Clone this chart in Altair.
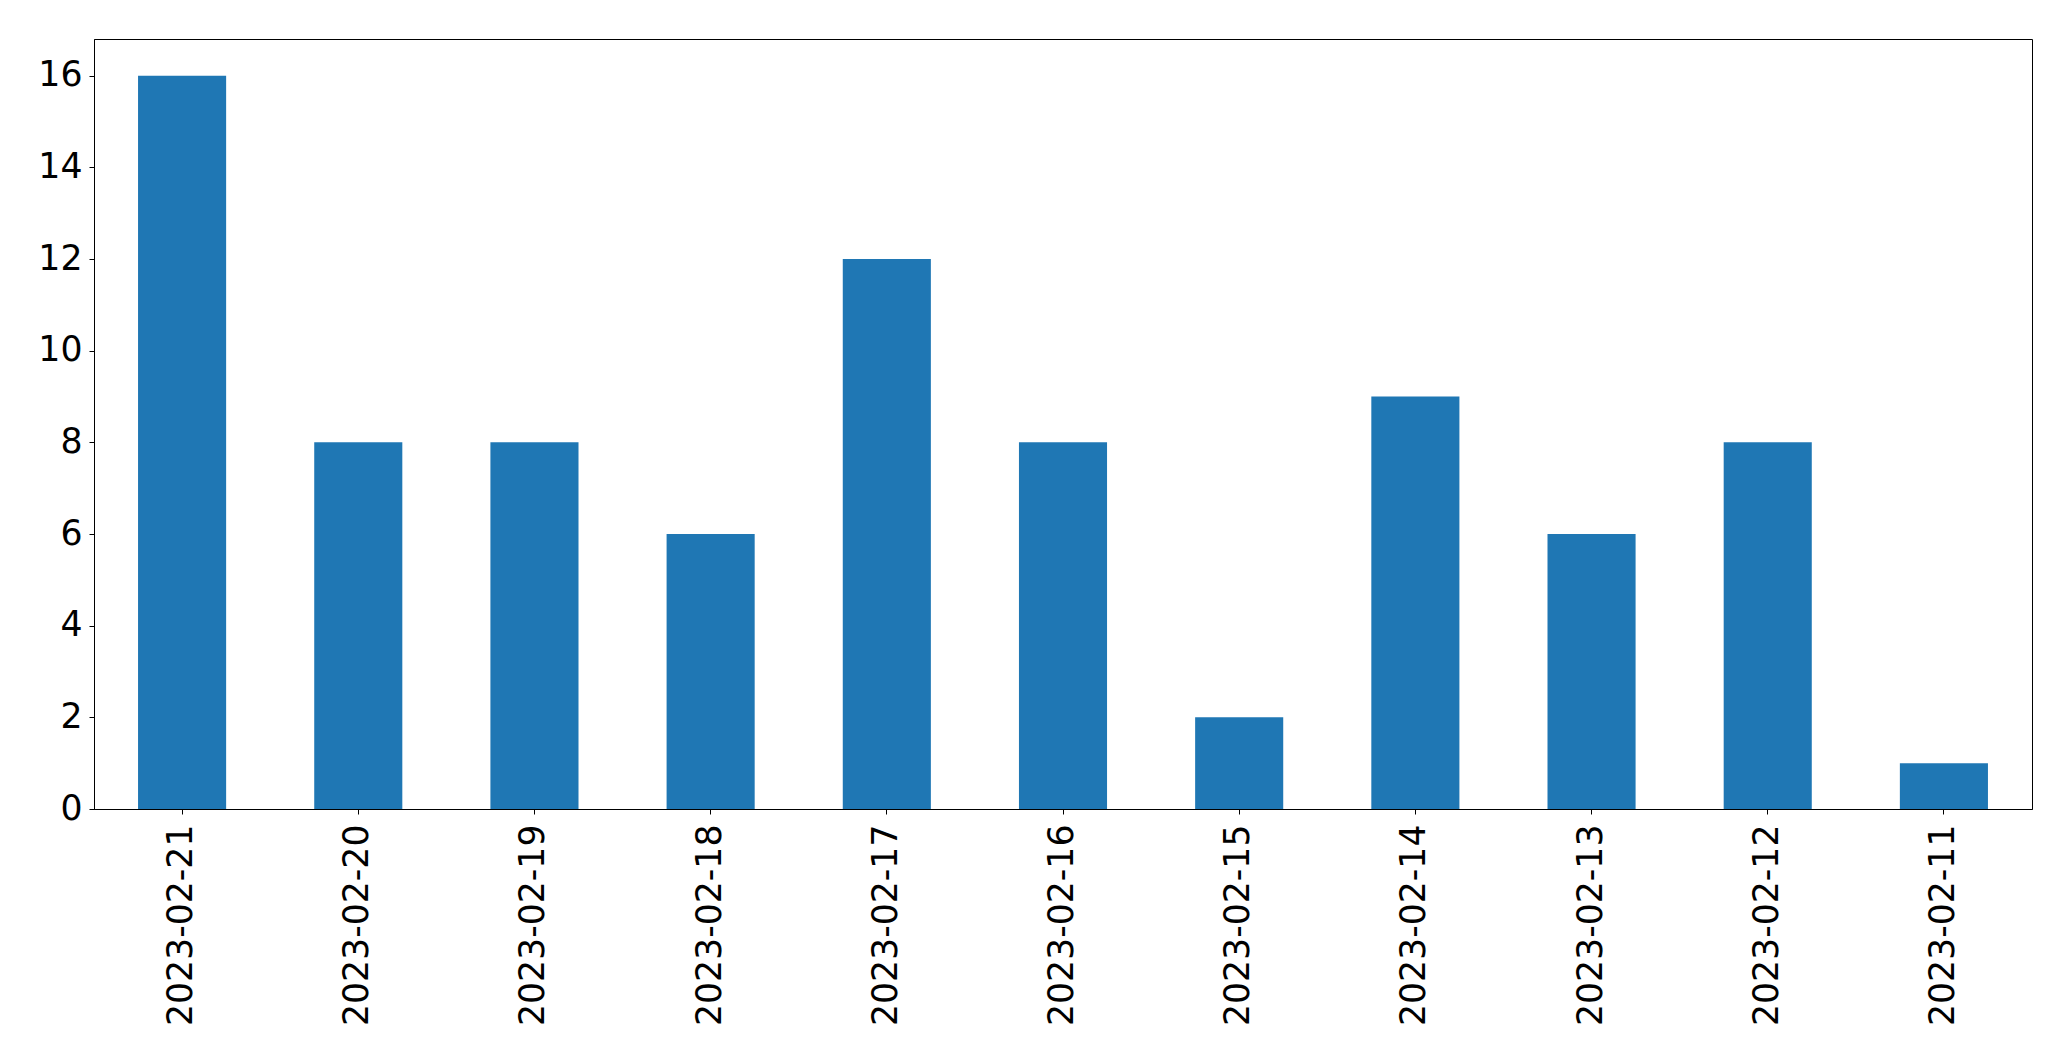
import altair as alt
import pandas as pd

dates = ["2023-02-21", "2023-02-20", "2023-02-19", "2023-02-18", "2023-02-17",
         "2023-02-16", "2023-02-15", "2023-02-14", "2023-02-13", "2023-02-12",
         "2023-02-11"]
counts = [16, 8, 8, 6, 12, 8, 2, 9, 6, 8, 1]
y_ticks = [0, 2, 4, 6, 8, 10, 12, 14, 16]

df = pd.DataFrame({"date": dates, "count": counts})

chart = alt.Chart(df).mark_bar(color="#1f77b4").encode(
    x=alt.X("date:N", sort=None, title=None,
            scale=alt.Scale(paddingInner=0.5, paddingOuter=0.25),
            axis=alt.Axis(labelAngle=270, labelAlign="right", labelBaseline="middle",
                          labelFontSize=34.7, labelFont="DejaVu Sans", labelColor="black",
                          tickColor="black", domainColor="black", tickSize=5,
                          labelPadding=10, labelLimit=1000, labelOverlap=False, grid=False)),
    y=alt.Y("count:Q", title=None,
            scale=alt.Scale(domain=[0, 16.8], nice=False, zero=True),
            axis=alt.Axis(values=y_ticks, labelFontSize=34.7, labelFont="DejaVu Sans",
                          labelColor="black", tickColor="black", domainColor="black",
                          tickSize=5, labelPadding=7, grid=False)),
).properties(
    width=1938, height=770,
    autosize=alt.AutoSizeParams(type="none"),
    padding={"left": 86, "top": 31, "right": 30, "bottom": 230},
).configure_view(stroke="black", strokeWidth=1).configure_axis(domainWidth=1, tickWidth=1)

chart.save("out.html", embed_options={"renderer": "svg", "actions": False})
